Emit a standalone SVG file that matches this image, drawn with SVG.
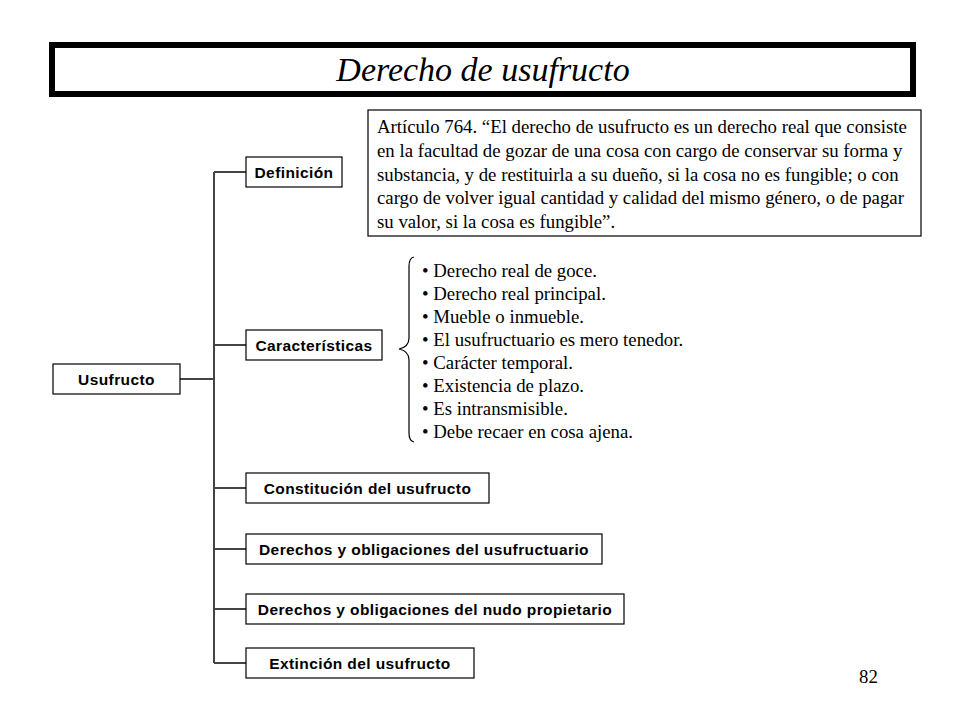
<svg xmlns="http://www.w3.org/2000/svg" width="960" height="720" viewBox="0 0 960 720">
<style>
.box{fill:#fff;stroke:#000;stroke-width:1.2}
.lbl{font-family:"Liberation Sans",Arial,sans-serif;font-weight:bold;font-size:15.5px;letter-spacing:0.4px;text-anchor:middle;fill:#000}
.ser{font-family:"Liberation Serif","Times New Roman",serif;font-size:18.8px;fill:#000}
.ln{stroke:#444;stroke-width:2;fill:none}
</style>
<rect width="960" height="720" fill="#fff"/>
<g id="title">
<rect x="52" y="45" width="861" height="49" fill="#fff" stroke="#000" stroke-width="6"/>
<text x="483" y="81" text-anchor="middle" font-family="Liberation Serif,'Times New Roman',serif" font-style="italic" font-size="34">Derecho de usufructo</text>
</g>
<g id="connectors">
<line class="ln" x1="214" y1="172" x2="214" y2="663"/>
<line class="ln" x1="180" y1="379" x2="214" y2="379"/>
<line class="ln" x1="214" y1="172" x2="246" y2="172"/>
<line class="ln" x1="214" y1="345" x2="246" y2="345"/>
<line class="ln" x1="214" y1="488" x2="246" y2="488"/>
<line class="ln" x1="214" y1="549" x2="246" y2="549"/>
<line class="ln" x1="214" y1="609" x2="246" y2="609"/>
<line class="ln" x1="214" y1="663" x2="246" y2="663"/>
<path d="M414,257 Q409,258 409,266 L409,338 Q409,347 399,349 Q409,351 409,360 L409,433 Q409,441 414,442" fill="none" stroke="#000" stroke-width="1.2"/>
</g>
<g id="usufructo">
<rect class="box" x="53" y="364" width="127" height="30"/>
<text class="lbl" x="116.5" y="385">Usufructo</text>
</g>
<g id="definicion">
<rect class="box" x="246" y="157" width="96" height="30"/>
<text class="lbl" x="294" y="178">Definición</text>
</g>
<g id="caracteristicas">
<rect class="box" x="246" y="330" width="136" height="30"/>
<text class="lbl" x="314" y="351">Características</text>
</g>
<g id="constitucion">
<rect class="box" x="246" y="473" width="243" height="30"/>
<text class="lbl" x="367.5" y="494">Constitución del usufructo</text>
</g>
<g id="der-usufructuario">
<rect class="box" x="246" y="534" width="356" height="30"/>
<text class="lbl" x="424" y="555">Derechos y obligaciones del usufructuario</text>
</g>
<g id="der-nudo">
<rect class="box" x="246" y="594" width="378" height="30"/>
<text class="lbl" x="435" y="615">Derechos y obligaciones del nudo propietario</text>
</g>
<g id="extincion">
<rect class="box" x="246" y="648" width="228" height="30"/>
<text class="lbl" x="360" y="669">Extinción del usufructo</text>
</g>
<g id="articulo">
<rect class="box" x="368" y="110" width="553" height="126"/>
<text class="ser" x="377" y="133">Artículo 764. “El derecho de usufructo es un derecho real que consiste</text>
<text class="ser" x="377" y="157">en la facultad de gozar de una cosa con cargo de conservar su forma y</text>
<text class="ser" x="377" y="181">substancia, y de restituirla a su dueño, si la cosa no es fungible; o con</text>
<text class="ser" x="377" y="204">cargo de volver igual cantidad y calidad del mismo género, o de pagar</text>
<text class="ser" x="377" y="228">su valor, si la cosa es fungible”.</text>
</g>
<g id="lista">
<text class="ser" x="422" y="277">• Derecho real de goce.</text>
<text class="ser" x="422" y="300">• Derecho real principal.</text>
<text class="ser" x="422" y="323">• Mueble o inmueble.</text>
<text class="ser" x="422" y="346">• El usufructuario es mero tenedor.</text>
<text class="ser" x="422" y="369">• Carácter temporal.</text>
<text class="ser" x="422" y="392">• Existencia de plazo.</text>
<text class="ser" x="422" y="415">• Es intransmisible.</text>
<text class="ser" x="422" y="438">• Debe recaer en cosa ajena.</text>
</g>
<text class="ser" x="859" y="683" font-size="19">82</text>
</svg>
